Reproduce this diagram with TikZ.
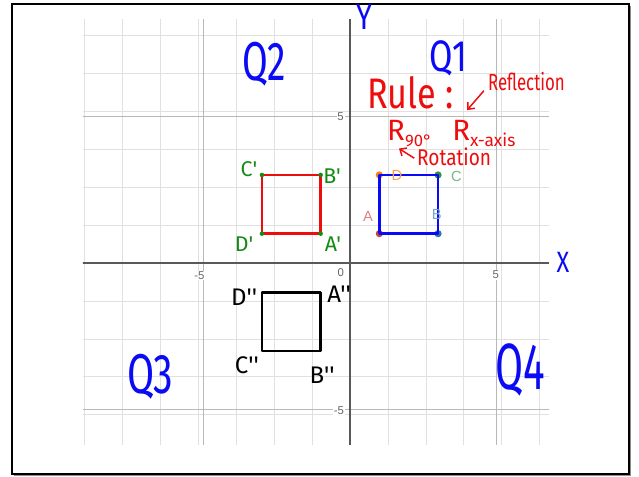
\documentclass[tikz,border=0pt]{standalone}
\usepackage{fontspec}
\setmainfont{Liberation Sans}
\newfontfamily\handfont{Fira Sans}
\usetikzlibrary{arrows.meta,positioning}

\definecolor{penblue}{RGB}{10,10,245}
\definecolor{penred}{RGB}{238,12,12}
\definecolor{pengreen}{RGB}{20,140,20}
\definecolor{dsred}{HTML}{C74440}
\definecolor{dsblue}{HTML}{2D70B3}
\definecolor{dsgreen}{HTML}{388C46}
\definecolor{dsorange}{HTML}{FA7E19}

\newcommand{\fsz}[1]{\fontsize{#1}{#1}\selectfont}

\begin{document}
\begin{tikzpicture}[x=22pt, y=22pt,
  hand/.style={font=\handfont, inner sep=0pt},
  pen/.style={line width=1.9pt, line join=round, line cap=round},
  dot/.style={circle, fill, inner sep=0pt, minimum size=5.4pt},
  smalldot/.style={circle, fill=pengreen, inner sep=0pt, minimum size=3.4pt},
  tick/.style={font=\fsz{8.5}, text=black!60, fill=white, inner sep=0.6pt},
  dslabel/.style={font=\fsz{11}, inner sep=0pt},
  arr/.style={-{Straight Barb[length=4pt,width=7pt]}, line width=1.1pt, penred}]
  \useasboundingbox (-11.925,-7.291) rectangle (9.847,8.961);
  % frame
  \fill[black!45] (-11.44,-7.27) rectangle (9.59,8.76);
  \draw[line width=2pt, fill=white] (-11.516,-7.189) rectangle (9.506,8.825);
  % grid
  \begin{scope}
    \clip (-9.1,-6.17) rectangle (6.78,8.31);
    \draw[black!12, line width=0.6pt] (-10,-7) grid (7,9);
    \foreach \v in {-5,5} {
      \draw[black!28, line width=0.8pt] (\v,-7) -- (\v,9);
      \draw[black!28, line width=0.8pt] (-10,\v) -- (7,\v);
    }
    \draw[black!65, line width=1.3pt] (-10,0) -- (7,0);
    \draw[black!65, line width=1.3pt] (0,-7) -- (0,9);
  \end{scope}
  \node[tick] (t5y) at (-0.32,4.97) {5};
  \node[tick] (t0) at (-0.31,-0.34) {0};
  \node[tick] (tm5x) at (-5.13,-0.42) {-5};
  \node[tick] (t5x) at (4.97,-0.41) {5};
  \node[tick] (tm5y) at (-0.38,-5.04) {-5};

  % corners
  \coordinate (A) at (1,1);   \coordinate (B) at (3,1);
  \coordinate (C) at (3,3);   \coordinate (D) at (1,3);
  \coordinate (A1) at (-1,1); \coordinate (B1) at (-1,3);
  \coordinate (C1) at (-3,3); \coordinate (D1) at (-3,1);
  \coordinate (A2) at (-1,-1); \coordinate (B2) at (-1,-3);
  \coordinate (C2) at (-3,-3); \coordinate (D2) at (-3,-1);

  % original square ABCD
  \node[dot, fill=dsred] (pA) at (A) {};
  \node[dot, fill=dsblue] (pB) at (B) {};
  \node[dot, fill=dsgreen] (pC) at (C) {};
  \node[dot, fill=dsorange] (pD) at (D) {};
  \draw[pen, penblue] (A) -- (B) -- (C) -- (D) -- cycle;
  \node[dslabel, text=dsred!65] (lA) at (0.61,1.57) {A};
  \node[dslabel, text=dsblue!65] (lB) at (2.96,1.67) {B};
  \node[dslabel, text=dsgreen!65] (lC) at (3.63,2.95) {C};
  \node[dslabel, text=dsorange!75] (lD) at (1.6,3.0) {D};

  % rotated square
  \draw[pen, penred] (A1) -- (B1) -- (C1) -- (D1) -- cycle;
  \foreach \p in {A1,B1,C1,D1} \node[smalldot] (g\p) at (\p) {};
  \node[hand, font=\handfont\fsz{16}, text=pengreen] (lC1) at (-3.44,3.2) {C'};
  \node[hand, font=\handfont\fsz{16}, text=pengreen] (lB1) at (-0.61,2.96) {B'};
  \node[hand, font=\handfont\fsz{16}, text=pengreen] (lD1) at (-3.61,0.65) {D'};
  \node[hand, font=\handfont\fsz{16}, text=pengreen] (lA1) at (-0.58,0.65) {A'};

  % reflected square
  \draw[pen, black] (A2) -- (B2) -- (C2) -- (D2) -- cycle;
  \node[hand, font=\handfont\fsz{18}] (lD2) at (-3.61,-1.16) {D''};
  \node[hand, font=\handfont\fsz{18}] (lA2) at (-0.37,-1.06) {A''};
  \node[hand, font=\handfont\fsz{18}] (lC2) at (-3.51,-3.48) {C''};
  \node[hand, font=\handfont\fsz{18}] (lB2) at (-0.95,-3.82) {B''};

  % axes and quadrants
  \node[hand, font=\handfont\fsz{27}, text=penblue, xscale=0.8] (ylab) at (0.48,8.38) {Y};
  \node[hand, font=\handfont\fsz{22}, text=penblue, xscale=0.8] (xlab) at (7.26,0.03) {X};
  \node[hand, font=\handfont\fsz{33}, text=penblue, xscale=0.77] (q1) at (3.34,6.98) {Q1};
  \node[hand, font=\handfont\fsz{41}, text=penblue, xscale=0.68] (q2) at (-2.93,6.78) {Q2};
  \node[hand, font=\handfont\fsz{42}, text=penblue, xscale=0.7] (q3) at (-6.81,-3.88) {Q3};
  \node[hand, font=\handfont\fsz{49}, text=penblue, xscale=0.62] (q4) at (5.79,-3.65) {Q4};

  % rule
  \node[hand, font=\handfont\fsz{32}, text=penred, xscale=0.8, anchor=base west] (rule) at (0.58,5.25) {Rule :};
  \node[hand, font=\handfont\fsz{17.5}, text=penred, xscale=0.72, anchor=base west] (refl) at (4.70,5.89) {Reflection};
  \node[hand, font=\handfont\fsz{22}, text=penred, anchor=base west] (r90) at (1.26,4.19)
    {R\raisebox{-4.5pt}{\fsz{12.5}90°}};
  \node[hand, font=\handfont\fsz{22}, text=penred, anchor=base west] (rx) at (3.475,4.19)
    {R\raisebox{-4.5pt}{\fsz{13}x-axis}};
  \node[hand, font=\handfont\fsz{17}, text=penred, xscale=0.84, anchor=base west] (rot) at (2.28,3.32) {Rotation};
  \coordinate (reflhead) at (3.99,5.21);
  \coordinate (rothead) at (1.67,3.9);
  \draw[arr] ([xshift=-3pt]refl.south west) -- (reflhead);
  \draw[arr] ([xshift=-2pt,yshift=-1pt]rot.west) -- (rothead);
\end{tikzpicture}
\end{document}
